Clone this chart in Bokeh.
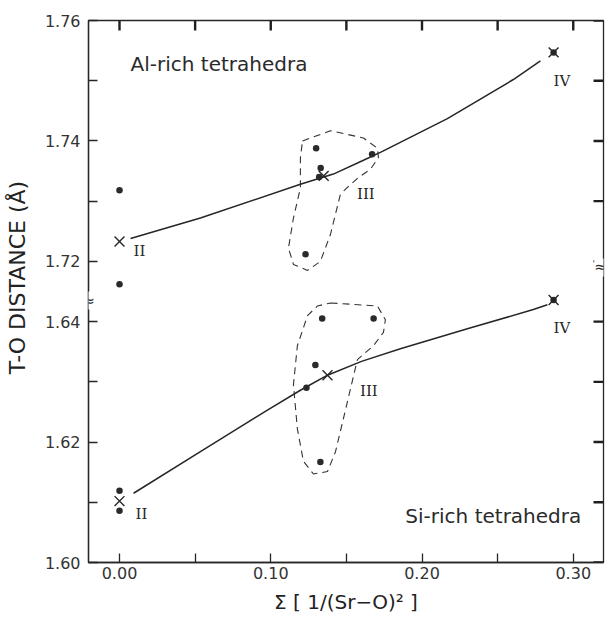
import math
from bokeh.plotting import figure
from bokeh.models import FixedTicker, Range1d, Label
from bokeh.core.properties import value
from bokeh.embed import file_html
from bokeh.resources import INLINE

# ---------------- data ----------------
# The y axis is broken: the Al-rich panel (1.713-1.76) is drawn shifted
# down by BREAK_SHIFT so that it sits directly above the Si-rich panel (1.60-1.643).
BREAK_SHIFT = 0.07

# Al-rich tetrahedra: individual T-O distances
al_x = [0.000, 0.000, 0.130, 0.133, 0.132, 0.123, 0.167, 0.287]
al_y = [1.7318, 1.7162, 1.7388, 1.7355, 1.7340, 1.7212, 1.7378, 1.7547]
# Al-rich group means (X)
al_mean_x = [0.000, 0.135, 0.287]
al_mean_y = [1.7233, 1.7342, 1.7547]
# Al-rich fitted curve
al_fit_x = [0.0073, 0.0535, 0.1196, 0.1414, 0.1613, 0.1725, 0.2168, 0.2604, 0.2783]
al_fit_y = [1.7238, 1.7272, 1.7328, 1.7345, 1.7368, 1.7381, 1.7437, 1.7502, 1.7533]
# Al-rich group III outline
al_loop_x = [0.121, 0.1395, 0.1613, 0.1705, 0.1712, 0.1659, 0.1573, 0.1461, 0.1395,
             0.1328, 0.1243, 0.115, 0.1117, 0.115, 0.1196, 0.1196]
al_loop_y = [1.7400, 1.7417, 1.7405, 1.7388, 1.7372, 1.7353, 1.7338, 1.7312, 1.7245,
             1.7200, 1.7185, 1.7195, 1.7222, 1.7272, 1.7322, 1.7372]

# Si-rich tetrahedra: individual T-O distances
si_x = [0.000, 0.000, 0.134, 0.168, 0.1295, 0.1236, 0.1328, 0.287]
si_y = [1.6119, 1.6086, 1.6405, 1.6405, 1.6328, 1.6290, 1.6167, 1.6436]
# Si-rich group means (X)
si_mean_x = [0.000, 0.1375, 0.287]
si_mean_y = [1.6102, 1.6311, 1.6436]
# Si-rich fitted curve
si_fit_x = [0.0093, 0.0535, 0.0978, 0.1196, 0.1375, 0.1600, 0.1857, 0.2300, 0.2736, 0.2829]
si_fit_y = [1.6115, 1.6184, 1.6253, 1.6286, 1.6311, 1.6334, 1.6355, 1.6388, 1.6420, 1.6428]
# Si-rich group III outline
si_loop_x = [0.1395, 0.1705, 0.1758, 0.1745, 0.1679, 0.1573, 0.1507, 0.1428, 0.1375,
             0.1282, 0.1216, 0.1176, 0.115, 0.1176, 0.1243, 0.1309]
si_loop_y = [1.6431, 1.6426, 1.6403, 1.6382, 1.6360, 1.6337, 1.6267, 1.6184, 1.6151,
             1.6147, 1.6168, 1.6222, 1.6295, 1.6360, 1.6410, 1.6426]

# group labels
al_lab_text = ["II", "III", "IV"]
al_lab_x = [0.0093, 0.157, 0.287]
al_lab_y = [1.7217, 1.7312, 1.7500]
si_lab_text = ["II", "III", "IV"]
si_lab_x = [0.0106, 0.159, 0.287]
si_lab_y = [1.6080, 1.6285, 1.6390]

# axes
x_major = [0.00, 0.10, 0.20, 0.30]
x_labels = ["0.00", "0.10", "0.20", "0.30"]
x_minor = [0.05, 0.15, 0.25]
y_lower_major = [1.60, 1.62, 1.64]
y_lower_minor = [1.61, 1.63]
y_upper_major = [1.72, 1.74, 1.76]
y_upper_minor = [1.73, 1.75]


def up(vals):
    return [v - BREAK_SHIFT for v in vals]


INK = "#262626"
FONT = "DejaVu Sans"
X0, X1 = -0.0205, 0.32
Y0, Y1 = 1.60, 1.76 - BREAK_SHIFT
W, H = 606, 620
BL, BR, BT, BB = 88, 3, 20, 58
TICK = 9  # inward tick length in px

p = figure(width=W, height=H, output_backend="svg", toolbar_location=None,
           x_range=Range1d(X0, X1), y_range=Range1d(Y0, Y1),
           min_border_left=BL, min_border_right=BR, min_border_top=BT, min_border_bottom=BB)
p.xgrid.visible = False
p.ygrid.visible = False
p.outline_line_color = INK
p.outline_line_width = 1.3
p.background_fill_color = "white"
p.border_fill_color = "white"

# ---- left axis ----
y_ticks = y_lower_major + up(y_upper_major)
y_minor = y_lower_minor + up(y_upper_minor)
y_over = {v: f"{v:.2f}" for v in y_lower_major}
for v, t in zip(up(y_upper_major), y_upper_major):
    y_over[v] = f"{t:.2f}"

ax_y = p.yaxis[0]
ax_y.ticker = FixedTicker(ticks=y_ticks, minor_ticks=y_minor)
ax_y.major_label_overrides = y_over
ax_y.axis_label = "\u00a0\u00a0\u00a0\u00a0T-O DISTANCE (Å)"

ax_x = p.xaxis[0]
ax_x.ticker = FixedTicker(ticks=x_major, minor_ticks=x_minor)
ax_x.major_label_overrides = dict(zip(x_major, x_labels))
ax_x.axis_label = "Σ [ 1/(Sr−O)² ]"

for ax in (ax_x, ax_y):
    ax.axis_line_color = INK
    ax.axis_line_width = 1.3
    ax.major_tick_in = TICK
    ax.major_tick_out = 0
    ax.minor_tick_in = TICK
    ax.minor_tick_out = 0
    ax.major_tick_line_color = INK
    ax.minor_tick_line_color = INK
    ax.major_tick_line_width = 1.3
    ax.minor_tick_line_width = 1.3
    ax.major_label_text_font = FONT
    ax.major_label_text_font_size = "16px"
    ax.major_label_text_color = "#333333"
    ax.axis_label_text_font = FONT
    ax.axis_label_text_font_style = "normal"
    ax.axis_label_text_color = "#222222"
ax_y.axis_label_text_font_size = "22px"
ax_x.axis_label_text_font_size = "20px"
ax_y.major_label_standoff = 8
ax_y.axis_label_standoff = 12
ax_x.major_label_standoff = 4
ax_x.axis_label_standoff = 8

# ---- inward ticks on the top and right edges of the frame ----
frame_w = W - BL - BR
frame_h = H - BT - BB
dx = (TICK + 1) * (X1 - X0) / frame_w
dy = (TICK + 1) * (Y1 - Y0) / frame_h
top_ticks = x_major + x_minor
p.segment(x0=top_ticks, y0=[Y1 - 0.02 * dy] * len(top_ticks), x1=top_ticks,
          y1=[Y1 - dy] * len(top_ticks), line_color="#1e1e1e", line_width=2.4)
right_ticks = y_ticks + y_minor
p.segment(x0=[X1 - 0.02 * dx] * len(right_ticks), y0=right_ticks,
          x1=[X1 - dx] * len(right_ticks), y1=right_ticks,
          line_color="#1e1e1e", line_width=2.4)

# ---- outlines of group III ----
p.patch(al_loop_x, up(al_loop_y), fill_color=None, line_color="#333333",
        line_width=1.1, line_dash="7 5")
p.patch(si_loop_x, si_loop_y, fill_color=None, line_color="#333333",
        line_width=1.1, line_dash="7 5")

# ---- fitted curves ----
p.line(al_fit_x, up(al_fit_y), line_color=INK, line_width=1.5)
p.line(si_fit_x, si_fit_y, line_color=INK, line_width=1.5)

# ---- data points ----
p.scatter(al_x, up(al_y), marker="circle", size=6.5, fill_color="#2a2a2a", line_color=None)
p.scatter(si_x, si_y, marker="circle", size=6.5, fill_color="#2a2a2a", line_color=None)

# ---- means ----
p.scatter(al_mean_x, up(al_mean_y), marker="x", size=14, line_color=INK, line_width=1.4)
p.scatter(si_mean_x, si_mean_y, marker="x", size=14, line_color=INK, line_width=1.4)

# ---- group labels ----
p.text(al_lab_x, up(al_lab_y), text=al_lab_text, text_font=value("DejaVu Serif"),
       text_font_size="15px", text_color=INK, text_align="left", text_baseline="middle")
p.text(si_lab_x, si_lab_y, text=si_lab_text, text_font=value("DejaVu Serif"),
       text_font_size="15px", text_color=INK, text_align="left", text_baseline="middle")

# ---- panel titles ----
p.add_layout(Label(x=0.0073, y=1.7528 - BREAK_SHIFT, text="Al-rich tetrahedra",
                   text_font=FONT, text_font_size="20px", text_color="#2a2a2a",
                   text_align="left", text_baseline="middle"))
p.add_layout(Label(x=0.189, y=1.6077, text="Si-rich tetrahedra",
                   text_font=FONT, text_font_size="20px", text_color="#2a2a2a",
                   text_align="left", text_baseline="middle"))

# ---- axis break marks ----
p.add_layout(Label(x=X0, y=1.6435, text="≈", text_font=FONT, text_font_size="15px",
                   text_color=INK, text_align="center", text_baseline="middle",
                   background_fill_color="white"))
p.add_layout(Label(x=X1, y=1.6490, x_offset=-3, text="≈", text_font=FONT,
                   text_font_size="15px", text_color=INK, text_align="center",
                   text_baseline="middle", background_fill_color="white"))

open("out.html", "w").write(file_html(p, INLINE))
